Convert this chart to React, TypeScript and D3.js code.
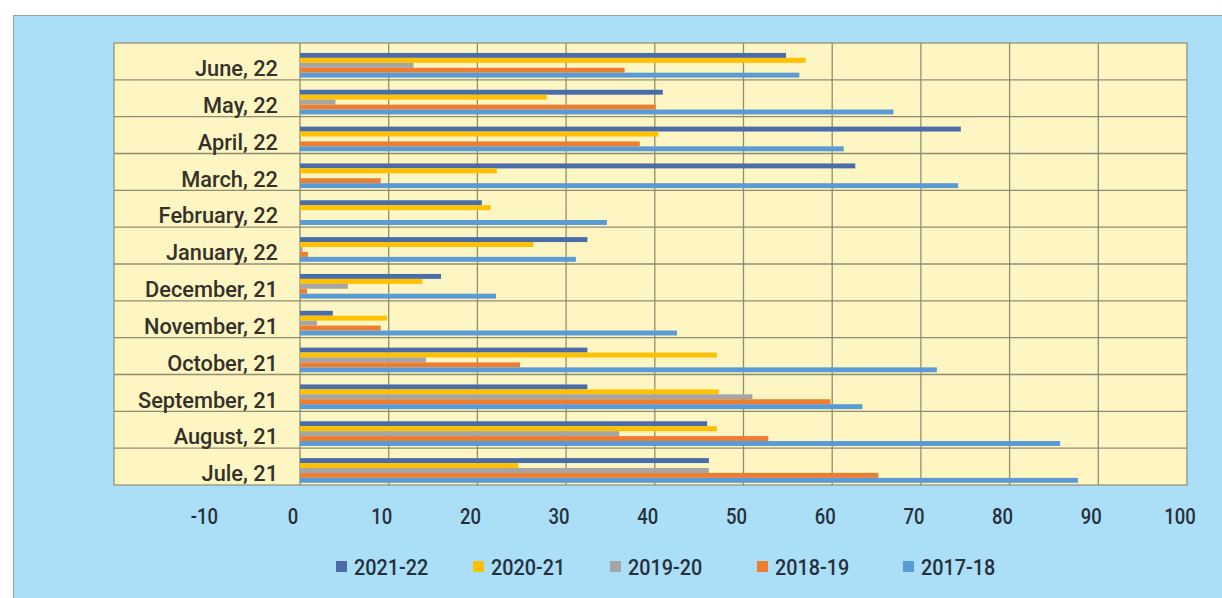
import React, { useRef, useEffect } from "react";
import * as d3 from "d3";

const months = [
  "June, 22",
  "May, 22",
  "April, 22",
  "March, 22",
  "February, 22",
  "January, 22",
  "December, 21",
  "November, 21",
  "October, 21",
  "September, 21",
  "August, 21",
  "Jule, 21",
];

const seriesNames = ["2021-22", "2020-21", "2019-20", "2018-19", "2017-18"];
const seriesColors = ["#4a6ca8", "#ffc000", "#a5a5a5", "#ed7d31", "#5b9bd5"];

const s2122 = [54.8, 40.9, 74.5, 62.6, 20.5, 32.4, 15.9, 3.7, 32.4, 32.4, 45.9, 46.1];
const s2021 = [57.0, 27.8, 40.4, 22.2, 21.5, 26.3, 13.8, 9.8, 47.0, 47.2, 47.0, 24.6];
const s1920 = [12.8, 4.0, 0, 0, 0, 0.3, 5.4, 1.9, 14.2, 51.0, 36.0, 46.1];
const s1819 = [36.6, 40.1, 38.3, 9.1, 0, 0.9, 0.8, 9.1, 24.8, 59.8, 52.8, 65.2];
const s1718 = [56.3, 66.9, 61.3, 74.2, 34.6, 31.1, 22.1, 42.5, 71.8, 63.4, 85.7, 87.7];

const seriesValues = [s2122, s2021, s1920, s1819, s1718];
const xTicks = [-10, 0, 10, 20, 30, 40, 50, 60, 70, 80, 90, 100];

const FONT = "Roboto, 'DejaVu Sans Condensed', Arial, sans-serif";

export default function App() {
  const svgRef = useRef<SVGSVGElement>(null);

  useEffect(() => {
    const svg = d3.select(svgRef.current);
    svg.selectAll("*").remove();

    const width = 1222;
    const height = 598;

    // outer panel
    svg.append("rect").attr("width", width).attr("height", height).attr("fill", "#ffffff");
    svg
      .append("rect")
      .attr("x", 13.5)
      .attr("y", 15.5)
      .attr("width", width)
      .attr("height", height)
      .attr("fill", "#aadff7")
      .attr("stroke", "#9aa3a8")
      .attr("stroke-width", 1);

    const plotLeft = 114;
    const plotTop = 43;
    const plotBottom = 485;
    const plotRight = 1187;

    const xScale = d3.scaleLinear().domain([0, 100]).range([300, plotRight]);
    const yScale = d3
      .scaleBand()
      .domain(months)
      .range([plotTop, plotBottom])
      .paddingInner(0)
      .paddingOuter(0);
    const bw = yScale.bandwidth();
    const inner = d3
      .scaleBand()
      .domain(seriesNames)
      .range([bw * 0.27, bw * 0.94])
      .paddingInner(0);

    // plot background
    svg
      .append("rect")
      .attr("x", plotLeft)
      .attr("y", plotTop)
      .attr("width", plotRight - plotLeft)
      .attr("height", plotBottom - plotTop)
      .attr("fill", "#fef6c2")
      .attr("stroke", "#8f8c74")
      .attr("stroke-width", 1.2);

    const grid = svg.append("g");
    // horizontal row lines
    months.forEach((m, i) => {
      if (i === 0) return;
      const y = yScale(m)!;
      grid
        .append("line")
        .attr("x1", plotLeft)
        .attr("x2", plotRight)
        .attr("y1", y)
        .attr("y2", y)
        .attr("stroke", "#8f8c74")
        .attr("stroke-width", 1.3);
    });
    // vertical gridlines
    xTicks
      .filter((t) => t >= 0 && t < 100)
      .forEach((t) => {
        grid
          .append("line")
          .attr("x1", xScale(t))
          .attr("x2", xScale(t))
          .attr("y1", plotTop)
          .attr("y2", plotBottom)
          .attr("stroke", "#8f8c74")
          .attr("stroke-width", 1.3);
      });

    // bars
    const bars = svg.append("g");
    seriesNames.forEach((name, si) => {
      bars
        .selectAll(`.bar-${si}`)
        .data(seriesValues[si])
        .enter()
        .append("rect")
        .attr("class", `bar-${si}`)
        .attr("x", xScale(0))
        .attr("y", (d, i) => yScale(months[i])! + inner(name)!)
        .attr("width", (d) => Math.max(0, xScale(d) - xScale(0)))
        .attr("height", inner.bandwidth())
        .attr("fill", seriesColors[si]);
    });

    // category labels
    svg
      .append("g")
      .selectAll("text")
      .data(months)
      .enter()
      .append("text")
      .attr("transform", (d) => `translate(278, ${yScale(d)! + bw / 2 + 14.6}) scale(0.99, 1)`)
      .attr("text-anchor", "end")
      .attr("font-family", FONT)
      .attr("font-weight", 500)
      .attr("font-size", 22)
      .attr("fill", "#34302a")
      .text((d) => d);

    // x tick labels
    svg
      .append("g")
      .selectAll("text")
      .data(xTicks)
      .enter()
      .append("text")
      .attr("transform", (d) => `translate(${xScale(d) - 7}, 524) scale(0.84, 1)`)
      .attr("text-anchor", "middle")
      .attr("font-family", FONT)
      .attr("font-weight", 500)
      .attr("font-size", 22)
      .attr("fill", "#26303c")
      .text((d) => d);

    // legend
    const legendX = [354, 491, 628, 775, 921];
    const legend = svg.append("g");
    seriesNames.forEach((name, i) => {
      legend
        .append("rect")
        .attr("x", legendX[i] - 18)
        .attr("y", 561)
        .attr("width", 11)
        .attr("height", 11)
        .attr("fill", seriesColors[i]);
      legend
        .append("text")
        .attr("transform", `translate(${legendX[i]}, 575) scale(0.9, 1)`)
        .attr("font-family", FONT)
        .attr("font-weight", 500)
        .attr("font-size", 22)
        .attr("fill", "#26303c")
        .text(name);
    });
  }, []);

  return (
    <svg
      ref={svgRef}
      width={1222}
      height={598}
      style={{ position: "absolute", left: 0, top: 0 }}
    ></svg>
  );
}
